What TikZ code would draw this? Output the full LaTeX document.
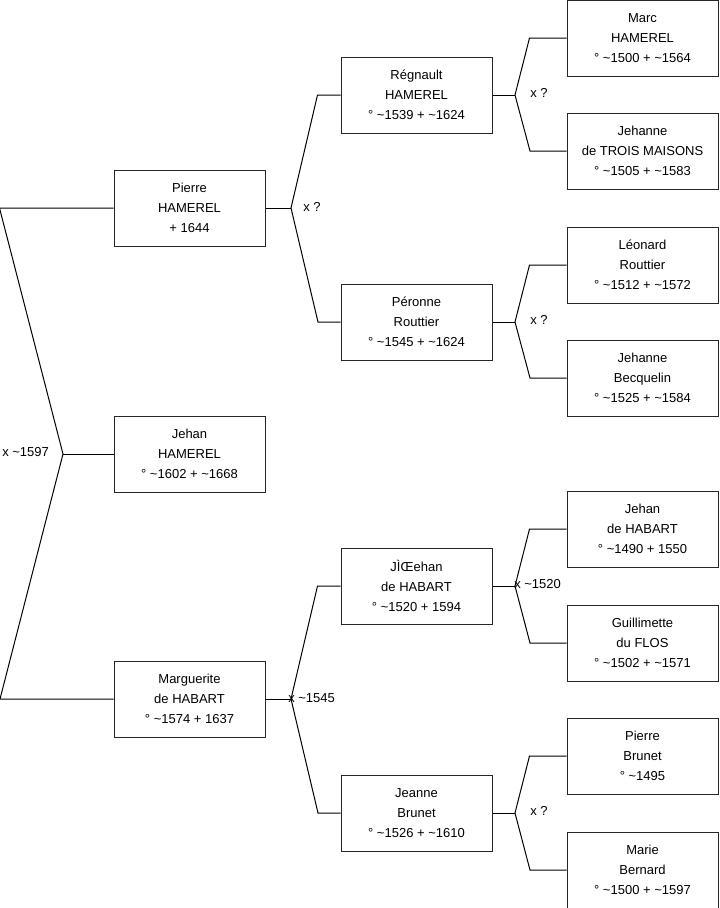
\documentclass[tikz,border=0pt]{standalone}
\usepackage{fontspec}
\setmainfont{Liberation Sans}
\usetikzlibrary{positioning}
\newcommand{\abt}{\textasciitilde}

\tikzset{
  person/.style={draw=black!85, line width=0.75pt, fill=white,
    minimum width=151*0.75pt, minimum height=76*0.75pt,
    align=center, inner sep=0pt, font=\fontsize{9.75}{15}\selectfont},
  link/.style={line width=0.75pt, black},
  union/.style={anchor=west, inner sep=0pt, font=\fontsize{9.75}{11}\selectfont}
}

\begin{document}
\begin{tikzpicture}[x=0.75pt, y=-0.75pt]
  \useasboundingbox (0,0) rectangle (719,908);

  % Generation 1
  \node[person] (pierre) at (189.5,208) {Pierre\\HAMEREL\\+ 1644};
  \node[person] (jehan) at (189.5,454) {Jehan\\HAMEREL\\° \abt1602 + \abt1668};
  \node[person] (marguerite) at (189.5,699) {Marguerite\\de HABART\\° \abt1574 + 1637};

  % Generation 2
  \node[person] (regnault) at (416.5,95) {Régnault\\HAMEREL\\° \abt1539 + \abt1624};
  \node[person] (peronne) at (416.5,322) {Péronne\\Routtier\\° \abt1545 + \abt1624};
  \node[person] (jehanh) at (416.5,586) {JÌŒehan\\de HABART\\° \abt1520 + 1594};
  \node[person] (jeanne) at (416.5,813) {Jeanne\\Brunet\\° \abt1526 + \abt1610};

  % Generation 3
  \node[person] (marc) at (642.5,38) {Marc\\HAMEREL\\° \abt1500 + \abt1564};
  \node[person] (jehannet) at (642.5,151) {Jehanne\\de TROIS MAISONS\\° \abt1505 + \abt1583};
  \node[person] (leonard) at (642.5,265) {Léonard\\Routtier\\° \abt1512 + \abt1572};
  \node[person] (jehanneb) at (642.5,378) {Jehanne\\Becquelin\\° \abt1525 + \abt1584};
  \node[person] (jehanhh) at (642.5,529) {Jehan\\de HABART\\° \abt1490 + 1550};
  \node[person] (guillimette) at (642.5,643) {Guillimette\\du FLOS\\° \abt1502 + \abt1571};
  \node[person] (pierreb) at (642.5,756) {Pierre\\Brunet\\° \abt1495};
  \node[person] (marie) at (642.5,870) {Marie\\Bernard\\° \abt1500 + \abt1597};

  % Forks, generation 1
  \coordinate (m0) at (63,454);
  \draw[link] (jehan.west) -- (m0);
  \draw[link] (pierre.west) -- ++(-114,0) -- (m0) -- ++(-63,245) -- (marguerite.west);
  \node[union] (u0) at (2,452) {x \abt1597};

  % Forks, generation 2
  \coordinate (m1) at (291,208);
  \draw[link] (pierre.east) -- (m1);
  \draw[link] (regnault.west) -- ++(-23,0) -- (m1) -- ++(27,114) -- (peronne.west);
  \node[union] (u1) at (303,207) {x ?};

  \coordinate (m2) at (291,699);
  \draw[link] (marguerite.east) -- (m2);
  \draw[link] (jehanh.west) -- ++(-23,0) -- (m2) -- ++(27,114) -- (jeanne.west);
  \node[union] (u2) at (288,698) {x \abt1545};

  % Forks, generation 3
  \coordinate (m3) at (515,95);
  \draw[link] (regnault.east) -- (m3);
  \draw[link] (marc.west) -- ++(-37,0) -- (m3) -- ++(15,56) -- (jehannet.west);
  \node[union] (u3) at (530,93) {x ?};

  \coordinate (m4) at (515,322);
  \draw[link] (peronne.east) -- (m4);
  \draw[link] (leonard.west) -- ++(-37,0) -- (m4) -- ++(15,56) -- (jehanneb.west);
  \node[union] (u4) at (530,320) {x ?};

  \coordinate (m5) at (515,586);
  \draw[link] (jehanh.east) -- (m5);
  \draw[link] (jehanhh.west) -- ++(-37,0) -- (m5) -- ++(15,57) -- (guillimette.west);
  \node[union] (u5) at (514,584) {x \abt1520};

  \coordinate (m6) at (515,813);
  \draw[link] (jeanne.east) -- (m6);
  \draw[link] (pierreb.west) -- ++(-37,0) -- (m6) -- ++(15,57) -- (marie.west);
  \node[union] (u6) at (530,811) {x ?};
\end{tikzpicture}
\end{document}
